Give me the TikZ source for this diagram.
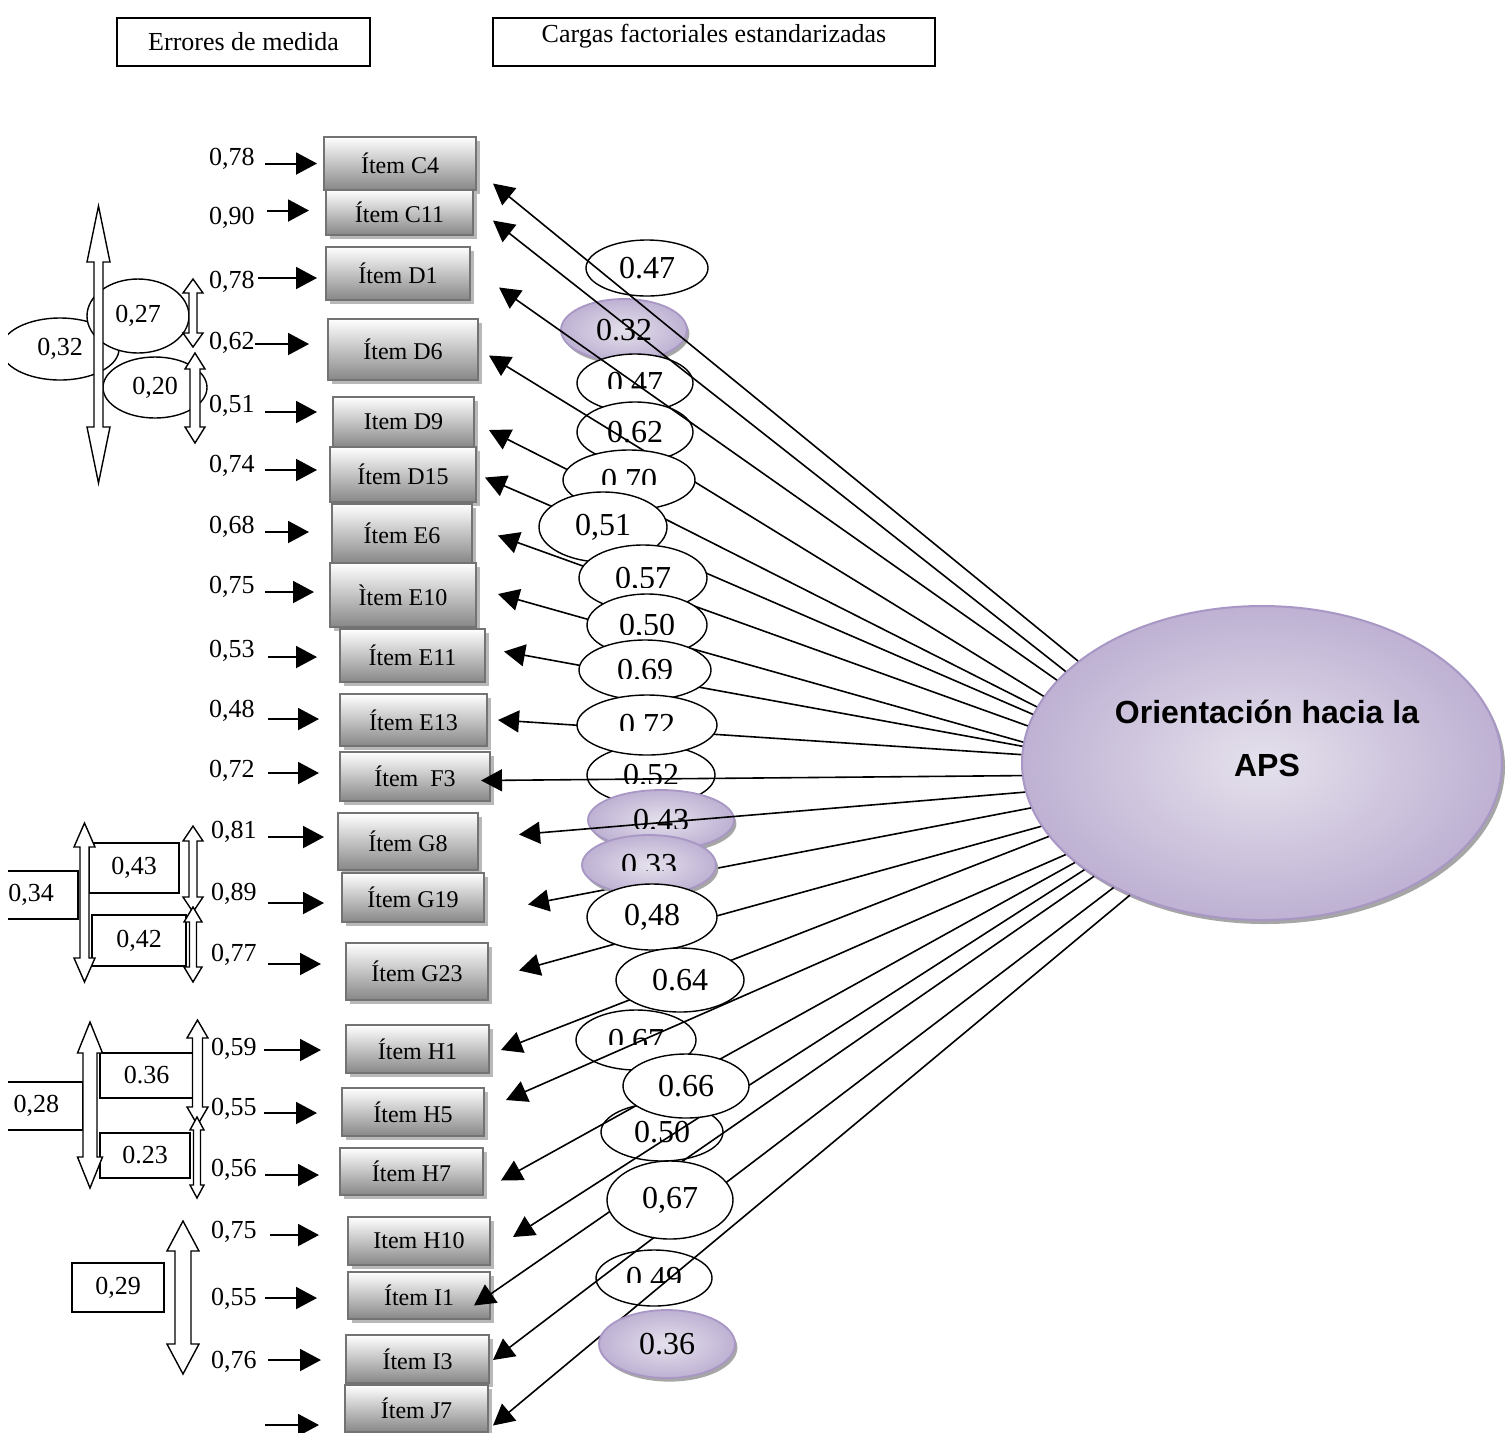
\documentclass[tikz,border=0pt]{standalone}
\usepackage{fontspec}
\setmainfont{Liberation Serif}
\setsansfont{Liberation Sans}
\usetikzlibrary{arrows.meta,shapes.geometric,shadows,calc}

\definecolor{lavlight}{HTML}{E5E1EC}
\definecolor{lavdark}{HTML}{BEB1D3}
\definecolor{lavedge}{HTML}{A897C5}
\definecolor{boxedge}{HTML}{737373}

% number whose lower part is cut away: text, height of the cut
\newsavebox{\cutbox}
\newlength{\cutw}
\newlength{\cuth}
\newcommand{\cutnum}[2]{%
  \sbox{\cutbox}{#1}%
  \setlength{\cutw}{\wd\cutbox}\setlength{\cuth}{\ht\cutbox}%
  \tikz[baseline=0pt]{%
    \useasboundingbox (0pt,0pt) rectangle (\cutw,\cuth);
    \clip (0pt,#2) rectangle (\cutw,\cuth+2pt);
    \pgftext[left,base]{\usebox{\cutbox}}}}

% hollow vertical double arrow: x, top, bottom, half shaft, half head, head length
\newcommand{\vdarrow}[6]{%
  \draw[blockarrow] (#1,#2) -- (#1+#5,#2+#6) -- (#1+#4,#2+#6) -- (#1+#4,#3-#6)
    -- (#1+#5,#3-#6) -- (#1,#3) -- (#1-#5,#3-#6) -- (#1-#4,#3-#6)
    -- (#1-#4,#2+#6) -- (#1-#5,#2+#6) -- cycle;}

\begin{document}
\begin{tikzpicture}[x=0.5pt, y=-0.5pt,
    hdrbox/.style={draw, line width=0.7pt, inner sep=0pt, font=\fontsize{13}{15}\selectfont},
    itembox/.style={draw=boxedge, line width=1pt, top color=white, bottom color=black!47,
      inner sep=0pt, font=\fontsize{12}{14}\selectfont,
      drop shadow={shadow xshift=1.8pt, shadow yshift=-2pt, fill=black!28, opacity=1}},
    errlabel/.style={inner sep=0pt, font=\fontsize{13}{15}\selectfont},
    correll/.style={ellipse, draw, fill=white, line width=0.7pt, inner sep=0pt, font=\fontsize{13}{15}\selectfont},
    corrbox/.style={draw, fill=white, line width=0.7pt, inner sep=0pt, font=\fontsize{13}{15}\selectfont},
    blockarrow/.style={draw, fill=white, line width=0.7pt, line join=miter},
    loadell/.style={ellipse, draw, fill=white, line width=0.7pt, inner sep=0pt, font=\fontsize{16}{18}\selectfont},
    loadpurple/.style={ellipse, draw=lavedge, line width=0.9pt, inner color=lavlight, outer color=lavdark,
      inner sep=0pt, font=\fontsize{16}{18}\selectfont,
      drop shadow={shadow xshift=1.2pt, shadow yshift=-1.8pt, fill=black!35, opacity=1}},
    apsell/.style={ellipse, draw=lavedge, line width=1pt, inner color=lavlight, outer color=lavdark,
      drop shadow={shadow xshift=1.5pt, shadow yshift=-2pt, fill=black!35, opacity=1}},
    errarrow/.style={-{Triangle[length=10.5pt,width=11pt]}, line width=1pt},
    loadarrow/.style={-{Triangle[length=10.5pt,width=11pt]}, line width=0.8pt}]

  \useasboundingbox (0,0) rectangle (1510,1432);
  \clip (8,0) rectangle (1510,1432);

  % ---- headings -----------------------------------
  \node[hdrbox, minimum width=126.5pt, minimum height=24pt] (errhdr) at (243.5,42) {Errores de medida};
  \node[hdrbox, minimum width=221pt, minimum height=24pt, text depth=9pt] (carhdr) at (714,42) {Cargas factoriales estandarizadas};

  % ---- correlated errors --------------------------
  \node[correll, minimum width=59pt, minimum height=31pt] (c32) at (60,349) {0,32};
  \node[correll, minimum width=51pt, minimum height=37pt] (c27) at (138,316) {0,27};
  \node[correll, minimum width=52pt, minimum height=30.5pt] (c20) at (155,387.5) {0,20};
  \vdarrow{98.5}{206}{483}{4.5}{11.5}{56}
  \vdarrow{193}{279}{347}{4}{10}{14}
  \vdarrow{195}{353}{443}{5}{10}{16}

  \node[corrbox, minimum width=47pt, minimum height=24pt] (c34) at (31,895) {0,34};
  \node[corrbox, minimum width=45pt, minimum height=25pt] (c43) at (134,868) {0,43};
  \node[corrbox, minimum width=47pt, minimum height=25.5pt] (c42) at (139,940.5) {0,42};
  \vdarrow{84.5}{823}{982}{4.5}{10.5}{24}
  \vdarrow{193}{826}{912}{4}{10}{15}
  \vdarrow{193}{907}{982}{3.5}{9}{15}

  \node[corrbox, minimum width=46.5pt, minimum height=24pt] (c28) at (36.5,1106) {0,28};
  \node[corrbox, minimum width=46.5pt, minimum height=22.5pt] (c36) at (146.5,1075.5) {0.36};
  \node[corrbox, minimum width=45pt, minimum height=22.5pt] (c23) at (145,1155.5) {0.23};
  \vdarrow{90}{1022}{1188}{7}{12.5}{31}
  \vdarrow{197.5}{1020}{1125}{5}{10.5}{18}
  \vdarrow{197}{1117}{1198}{3.5}{7}{13}

  \node[corrbox, minimum width=46pt, minimum height=24.5pt] (c29) at (118,1287.5) {0,29};
  \vdarrow{183}{1221}{1374}{8}{16}{30}

  % ---- items --------------------------------------
  \foreach \id/\x/\y/\w/\h/\txt in {
      C4/400/163.5/152/53/Ítem C4, C11/399.5/212.5/147/45/Ítem C11,
      D1/398/273.5/144/53/Ítem D1, D6/403/349.5/150/61/Ítem D6,
      D9/403.5/422/141/50/Item D9, D15/403/474.5/146/55/Ítem D15,
      E6/402/533.5/140/59/Ítem E6, E10/403/595/146/64/Ìtem E10,
      E11/412.5/655.5/145/53/Ítem E11, E13/413.5/720/147/52/Ítem E13,
      F3/415/776.5/150/49/Ítem~~F3, G8/408/841.5/140/57/Ítem G8,
      G19/413/897.5/142/49/Ítem G19, G23/417/971.5/142/57/Ítem G23,
      H1/417.5/1049/143/48/Ítem H1, H5/413/1112/142/48/Ítem H5,
      H7/411.5/1171.5/143/47/Ítem H7, H10/419/1241/142/48/Item H10,
      I1/419/1295.5/142/47/Ítem I1, I3/417.5/1359/143/48/Ítem I3,
      J7/416.5/1408.5/143/47/Ítem J7}
    \node[itembox, minimum width=\w*0.5pt, minimum height=\h*0.5pt] (i\id) at (\x,\y) {\txt};

  % ---- measurement errors -------------------------
  \foreach \id/\val/\lx/\ly/\sg/\eg/\dy in {
      C4/{0,78}/255/159/10/6/0, C11/{0,90}/255/218/12/16/-2,
      D1/{0,78}/255/282/3/8/4.5, D6/{0,62}/255/343/0/18/-5.5,
      D9/{0,51}/255/406/10/15/-10, D15/{0,74}/255/466/10/12/-4.5,
      E6/{0,68}/255/527/10/22/-1.5, E10/{0,75}/255/587/10/15/-3,
      E11/{0,53}/255/651/13/22/1.5, E13/{0,48}/255/711/13/20/-1,
      F3/{0,72}/255/771/13/20/-3.5, G8/{0,81}/257/832/11/13/-4.5,
      G19/{0,89}/257/894/11/17/5.5, G23/{0,77}/257/955/11/24/-7.5,
      H1/{0,59}/257/1049/7/24/1, H5/{0,55}/257/1109/7/24/1,
      H7/{0,56}/257/1170/8/20/3.5, H10/{0,75}/257/1232/13/28/-6,
      I1/{0,55}/257/1299/8/30/2.5, I3/{0,76}/257/1362/11/24/1}
  {
    \node[errlabel, anchor=east] (e\id) at (\lx,\ly) {\val};
    \draw[errarrow] ($(e\id.east |- i\id.west)+(\sg,\dy)$) -- ($(i\id.west)+(-\eg,\dy)$);
  }
  \coordinate (e21) at (265,1425);
  \draw[errarrow] (e21) -- ($(e21 -| iJ7.west)+(-25,0)$);

  % ---- latent factor ------------------------------
  \node[apsell, minimum width=240pt, minimum height=157pt] (aps) at (1262,763) {};
  \node[font=\sffamily\bfseries\fontsize{16}{26.5}\selectfont, align=center] (apstext) at (1267,738) {Orientación hacia la\\APS};

  % ---- loadings lying under the paths -------------
  \node[loadell, minimum width=61pt, minimum height=28pt] (wC4) at (647,268) {0.47};
  \node[loadpurple, minimum width=63pt, minimum height=31pt] (wC11) at (624,330) {0.32};
  \node[loadell, minimum width=58pt, minimum height=29pt] (wD1) at (635,383) {\cutnum{0.47}{0.15em}};
  \node[loadell, minimum width=58pt, minimum height=30pt] (wD6) at (635,432) {0.62};
  \node[loadell, minimum width=64pt, minimum height=30pt] (wF3) at (651,775) {\cutnum{0.52}{0.06em}};
  \node[loadpurple, minimum width=73pt, minimum height=30pt] (wG8) at (661,820) {\cutnum{0.43}{0.06em}};
  \node[loadell, minimum width=60pt, minimum height=30pt] (wH5) at (636,1040) {\cutnum{0.67}{0.2em}};
  \node[loadell, minimum width=61pt, minimum height=29pt] (wH10) at (662,1132) {0.50};
  \node[loadell, minimum width=58pt, minimum height=28pt] (wI3) at (654,1278) {\cutnum{0.49}{0.18em}};

  % ---- factor loadings ----------------------------
  \foreach \id/\ang/\dx/\dy in {
      C4/151/16/20, C11/155/19/8, D1/158/28/14, D6/163/10/6, D9/166/14/8,
      D15/168/8/3, E6/171/25/2, E10/175/21/-1, E11/176/18/-4, E13/178/10/0,
      F3/183/-10/4, G8/187/40/-7, G19/191/43/7, G23/196/30/-1, H1/199/11/1,
      H5/205/21/-12, H7/208/17/9, H10/211/22/-4, I1/214/-17/10, I3/220/3/1,
      J7/225/4/17}
    \draw[loadarrow] (aps.\ang) -- ($(i\id.east)+(\dx,\dy)$);

  % ---- loadings lying over the paths --------------
  \node[loadell, minimum width=66pt, minimum height=30pt] (wD9) at (629,480) {\cutnum{0.70}{0.18em}};
  \node[loadell, minimum width=64pt, minimum height=35pt] (wD15) at (603,527) {0,51};
  \node[loadell, minimum width=64pt, minimum height=33pt] (wE6) at (643,578) {\cutnum{0,57}{0.05em}};
  \node[loadell, minimum width=60pt, minimum height=31pt] (wE10) at (647,625) {\cutnum{0,50}{0.03em}};
  \node[loadell, minimum width=66pt, minimum height=30pt] (wE11) at (645,670) {\cutnum{0.69}{0.06em}};
  \node[loadell, minimum width=70pt, minimum height=30pt] (wE13) at (647,725) {\cutnum{0.72}{0.15em}};
  \node[loadpurple, minimum width=67pt, minimum height=30pt] (wG19) at (649,865) {\cutnum{0.33}{0.15em}};
  \node[loadell, minimum width=65pt, minimum height=33pt] (wG23) at (652,917) {0,48};
  \node[loadell, minimum width=64pt, minimum height=32pt] (wH1) at (680,980) {0.64};
  \node[loadell, minimum width=63pt, minimum height=32pt] (wH7) at (686,1086) {0.66};
  \node[loadell, minimum width=63pt, minimum height=39pt] (wI1) at (670,1200) {0,67};
  \node[loadpurple, minimum width=68pt, minimum height=34pt] (wJ7) at (667,1344) {0.36};
\end{tikzpicture}
\end{document}
